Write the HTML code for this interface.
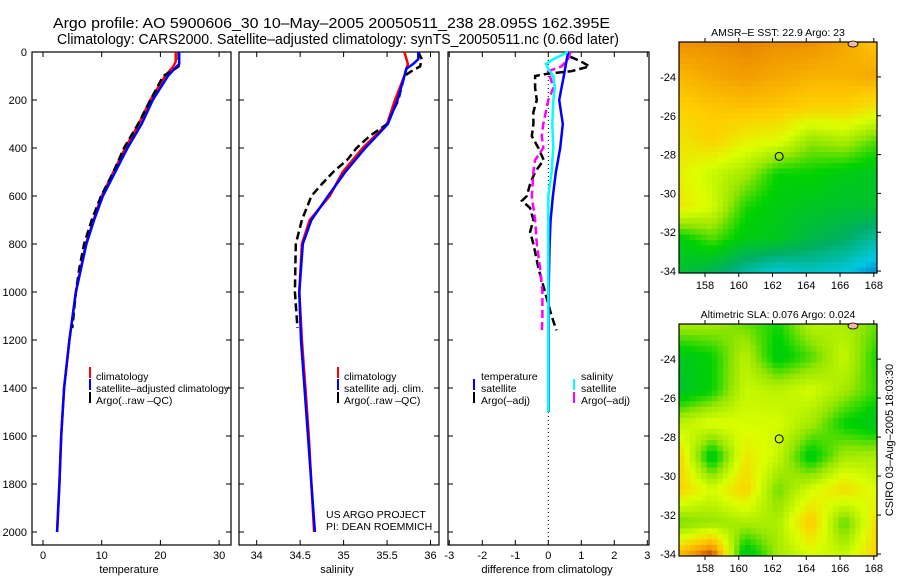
<!DOCTYPE html>
<html><head><meta charset="utf-8">
<style>
html,body{margin:0;padding:0;background:#fff;}
svg{display:block;font-family:"Liberation Sans",sans-serif;}
</style></head>
<body>
<svg id="fig" width="900" height="580" viewBox="0 0 900 580">
<text x="53" y="28" font-size="14.5" textLength="557" lengthAdjust="spacingAndGlyphs">Argo profile: AO 5900606_30 10‒May‒2005 20050511_238 28.095S 162.395E</text>
<text x="57" y="44" font-size="14.5" textLength="562" lengthAdjust="spacingAndGlyphs">Climatology: CARS2000. Satellite‒adjusted climatology: synTS_20050511.nc (0.66d later)</text>
<g id="layer"></g>
</svg>
<script>
const depthClim = [0,40,60,100,200,300,400,500,600,700,800,1000,1200,1400,1600,1800,2000];
const tempClim  = [22.6,22.6,22.2,20.8,18.3,16.3,14.0,12.0,10.0,8.6,7.3,5.6,4.5,3.6,3.1,2.8,2.4];
const depthSat  = [0,50,70,100,200,300,400,500,600,700,800,1000,1200,1400,1600,1800,2000];
const tempSat   = [23.2,23.2,22.4,21.3,18.7,16.8,14.4,12.3,10.2,8.7,7.4,5.6,4.5,3.6,3.1,2.8,2.4];
const depthArgo = [0,60,80,100,200,300,400,500,600,700,800,900,1000,1150];
const tempArgo  = [23.1,23.1,21.9,20.5,18.3,16.2,13.8,12.0,9.9,8.3,7.0,6.2,5.6,5.0];

const salDepthClim = [0,50,100,200,300,400,500,600,700,800,1000,1200,1400,1600,1800,2000];
const salClim   = [35.70,35.74,35.70,35.59,35.50,35.22,34.99,34.84,34.61,34.52,34.49,34.52,34.56,34.60,34.63,34.66];
const salDepthSat = [0,30,50,70,100,200,300,400,500,600,700,800,1000,1200,1400,1600,1800,2000];
const salSat    = [35.86,35.86,35.80,35.72,35.70,35.62,35.51,35.25,35.02,34.82,34.63,34.53,34.49,34.51,34.55,34.59,34.63,34.67];
const salDepthArgo = [0,30,60,80,100,200,300,350,400,450,500,550,600,700,800,1000,1150];
const salArgo   = [35.86,35.90,35.88,35.78,35.70,35.63,35.50,35.30,35.15,35.04,34.88,34.75,34.63,34.52,34.45,34.44,34.47];

const diffDepthT = [0,100,200,300,400,500,600,700,800,1000,1200,1500];
const diffTSat   = [0.60,0.47,0.33,0.44,0.36,0.23,0.14,0.07,0.04,0.01,0.01,0.01];
const diffDepthS = [0,30,50,70,100,150,200,300,400,500,600,800,1000,1200,1500];
const diffSSat   = [0.59,0.15,-0.07,0.0,0.15,0.20,0.15,0.12,0.15,0.10,0.0,0.0,0.0,0.0,0.0];
const diffDepthTA = [20,40,60,80,90,100,150,200,250,300,350,400,450,500,550,600,620,650,700,750,800,900,1000,1100,1160];
const diffTArgo   = [0.67,1.0,1.25,0.7,0.0,-0.4,-0.4,-0.35,-0.45,-0.45,-0.5,-0.3,-0.14,-0.4,-0.55,-0.65,-0.8,-0.55,-0.45,-0.55,-0.45,-0.3,-0.1,0.1,0.25];
const diffDepthSA = [0,30,60,80,100,150,200,300,350,400,450,500,600,700,800,900,1000,1100,1170];
const diffSArgo   = [0.67,0.6,0.4,0.0,0.05,0.15,0.0,-0.15,-0.2,-0.15,-0.4,-0.45,-0.5,-0.4,-0.35,-0.25,-0.18,-0.18,-0.2];

const depthTicks = [0,200,400,600,800,1000,1200,1400,1600,1800,2000];
const tempTicks = [0,10,20,30];
const salTicks = [34,34.5,35,35.5,36];
const salTickLabels = ["34","34.5","35","35.5","36"];
const diffTicks = [-3,-2,-1,0,1,2,3];
const lonTicks = [158,160,162,164,166,168];
const latTicks = [-24,-26,-28,-30,-32,-34];

const sstGrid = [
 [0.86,0.86,0.87,0.86,0.86,0.82,0.76],
 [0.79,0.82,0.84,0.82,0.80,0.80,0.82],
 [0.74,0.76,0.77,0.76,0.74,0.74,0.70],
 [0.70,0.74,0.68,0.66,0.55,0.58,0.50],
 [0.68,0.62,0.57,0.45,0.45,0.42,0.40],
 [0.70,0.64,0.47,0.42,0.40,0.38,0.38],
 [0.42,0.50,0.42,0.40,0.34,0.30,0.22],
 [0.38,0.32,0.22,0.15,0.18,0.15,0.08]
];
const slaGrid = [
 [0.58,0.57,0.52,0.46,0.60,0.58,0.52],
 [0.40,0.45,0.60,0.42,0.50,0.62,0.46],
 [0.38,0.45,0.62,0.60,0.64,0.57,0.48],
 [0.60,0.66,0.64,0.64,0.57,0.45,0.40],
 [0.74,0.40,0.70,0.62,0.42,0.57,0.58],
 [0.74,0.64,0.74,0.52,0.64,0.72,0.64],
 [0.52,0.55,0.58,0.58,0.76,0.50,0.72],
 [0.80,0.95,0.38,0.57,0.64,0.62,0.74]
];
const argoLon = 162.395, argoLat = -28.095;

const NS="http://www.w3.org/2000/svg";
const layer=document.getElementById('layer');
function el(tag,attrs,parent){const e=document.createElementNS(NS,tag);for(const k in attrs)e.setAttribute(k,attrs[k]);(parent||layer).appendChild(e);return e;}

const yTop=52, yPerD=0.24, yBot=545;
const yD = d => yTop + d*yPerD;
const xT = v => 43 + v*5.87;
const xS = v => 256.7 + (v-34)*86.9;
const xDf = v => 548.3 + v*33;

function frame(x0,x1,name){
  const r=el('rect',{x:x0,y:yTop,width:x1-x0,height:yBot-yTop,fill:'none',stroke:'#000','stroke-width':1.2});
  
  
  depthTicks.forEach(d=>{
    el('line',{x1:x0,x2:x0+5,y1:yD(d),y2:yD(d),stroke:'#000'});
    el('line',{x1:x1-5,x2:x1,y1:yD(d),y2:yD(d),stroke:'#000'});
  });
}
function xticks(ticks,labels,sc,name){
  ticks.forEach((t,i)=>{
    const x=sc(t);
    el('line',{x1:x,x2:x,y1:yTop,y2:yTop+5,stroke:'#000'});
    el('line',{x1:x,x2:x,y1:yBot-5,y2:yBot,stroke:'#000'});
    const tx=el('text',{x:x,y:yBot+14,'font-size':11,'text-anchor':'middle'});
    tx.textContent=labels[i];
    
    
  });
}
function line(xs,ds,sx,color,w,dash,name){
  const pts=xs.map((v,i)=>sx(v).toFixed(1)+','+yD(ds[i]).toFixed(1)).join(' ');
  const p=el('polyline',{points:pts,fill:'none',stroke:color,'stroke-width':w});
  if(dash)p.setAttribute('stroke-dasharray',dash);
  
  
}
function txt(x,y,s,size,name,anchor){
  const t=el('text',{x:x,y:y,'font-size':size,'text-anchor':anchor||'start'});
  t.textContent=s;
  
  
  return t;
}
function legBar(x,y,color,name){
  const r=el('rect',{x:x,y:y-9,width:2,height:11,fill:color});
  
  
}

frame(32,231,'temperature-panel');
depthTicks.forEach(d=>{txt(27,yD(d)+4,String(d),11,'y-tick-label','end');});
xticks(tempTicks,tempTicks.map(String),xT,'temperature-tick-label');
line(tempClim,depthClim,xT,'#f00',2.5,null,'temp-climatology-line');
line(tempArgo,depthArgo,xT,'#000',2.5,'8,4','temp-argo-line');
line(tempSat,depthSat,xT,'#00f',2.5,null,'temp-satellite-line');
txt(129,573,'temperature',11,'x-axis-title-temperature','middle');
legBar(89,376,'#f00','legend-swatch-climatology');txt(96,380,'climatology',10.5,'legend-climatology');
legBar(89,388,'#00f','legend-swatch-satellite');
const lt=txt(96,392,'satellite‒adjusted climatology',10.5,'legend-satellite');
lt.setAttribute('textLength','133');lt.setAttribute('lengthAdjust','spacingAndGlyphs');
legBar(89,401,'#000','legend-swatch-argo');txt(96,404,'Argo(..raw ‒QC)',10.5,'legend-argo');

frame(239,439,'salinity-panel');
xticks(salTicks,salTickLabels,xS,'salinity-tick-label');
line(salClim,salDepthClim,xS,'#f00',2.5,null,'sal-climatology-line');
line(salArgo,salDepthArgo,xS,'#000',2.5,'8,4','sal-argo-line');
line(salSat,salDepthSat,xS,'#00f',2.5,null,'sal-satellite-line');
txt(337,573,'salinity',11,'x-axis-title-salinity','middle');
legBar(337,376,'#f00','legend-swatch-sal-clim');txt(344,380,'climatology',10.5,'legend-sal-climatology');
legBar(337,388,'#00f','legend-swatch-sal-sat');txt(344,392,'satellite adj. clim.',10.5,'legend-sal-satellite');
legBar(337,401,'#000','legend-swatch-sal-argo');txt(344,404,'Argo(..raw ‒QC)',10.5,'legend-sal-argo');
txt(326,518,'US ARGO PROJECT',10.5,'project-label');
txt(326,530,'PI: DEAN ROEMMICH',10.5,'pi-label');

frame(448,649,'difference-panel');
xticks(diffTicks,diffTicks.map(String),xDf,'difference-tick-label');
el('line',{x1:xDf(0),x2:xDf(0),y1:yTop,y2:yBot,stroke:'#000','stroke-dasharray':'1,3'});
line(diffTArgo,diffDepthTA,xDf,'#000',2.5,'8,4','diff-temp-argo-line');
line(diffSArgo,diffDepthSA,xDf,'#f0f',2.5,'8,4','diff-sal-argo-line');
line(diffTSat,diffDepthT,xDf,'#00f',2.5,null,'diff-temp-satellite-line');
line(diffSSat,diffDepthS,xDf,'#0ff',2.5,null,'diff-sal-satellite-line');
txt(547,573,'difference from climatology',11,'x-axis-title-difference','middle');
txt(481,380,'temperature',10.5,'legend-temperature-header');
legBar(473,388,'#00f','legend-swatch-dt-sat');txt(481,392,'satellite',10.5,'legend-dt-satellite');
legBar(473,401,'#000','legend-swatch-dt-argo');txt(481,404,'Argo(‒adj)',10.5,'legend-dt-argo');
txt(581,380,'salinity',10.5,'legend-salinity-header');
legBar(573,388,'#0ff','legend-swatch-ds-sat');txt(581,392,'satellite',10.5,'legend-ds-satellite');
legBar(573,401,'#f0f','legend-swatch-ds-argo');txt(581,404,'Argo(‒adj)',10.5,'legend-ds-argo');

const cmapStops=[[0,[0,60,200]],[0.15,[0,200,225]],[0.3,[0,175,100]],[0.45,[0,210,0]],[0.55,[150,230,0]],[0.65,[220,255,0]],[0.75,[255,205,0]],[0.85,[240,150,0]],[1,[140,0,0]]];
function cmap(v){
  v=Math.max(0,Math.min(1,v));
  for(let i=1;i<cmapStops.length;i++){
    if(v<=cmapStops[i][0]){const a=cmapStops[i-1],b=cmapStops[i];const f=(v-a[0])/(b[0]-a[0]);
      return 'rgb('+a[1].map((c,k)=>Math.round(c+(b[1][k]-c)*f)).join(',')+')';}
  }
  return 'rgb(140,0,0)';
}
function sample(g,u,v){
  const R=g.length-1,C=g[0].length-1;
  const y=v*R,x=u*C;const r0=Math.min(R-1,Math.floor(y)),c0=Math.min(C-1,Math.floor(x));
  const fy=y-r0,fx=x-c0;
  return g[r0][c0]*(1-fx)*(1-fy)+g[r0][c0+1]*fx*(1-fy)+g[r0+1][c0]*(1-fx)*fy+g[r0+1][c0+1]*fx*fy;
}
function map(grid,x0,y0,x1,y1,title,name){
  const lonMin=156.46,lonMax=168.19,latTop=-22.2,latBot=-34.1;
  const lx=lon=>x0+(lon-lonMin)/(lonMax-lonMin)*(x1-x0);
  const ly=lat=>y0+(latTop-lat)/(latTop-latBot)*(y1-y0);
  const g=el('g',{});
  
  
  const nc=36,nr=42,cw=(x1-x0)/nc,ch=(y1-y0)/nr;
  for(let r=0;r<nr;r++)for(let c=0;c<nc;c++){
    el('rect',{x:(x0+c*cw).toFixed(2),y:(y0+r*ch).toFixed(2),width:(cw+0.4).toFixed(2),height:(ch+0.4).toFixed(2),fill:cmap(sample(grid,(c+0.5)/nc,(r+0.5)/nr))},g);
  }
  el('rect',{x:x0,y:y0,width:x1-x0,height:y1-y0,fill:'none',stroke:'#000','stroke-width':1.2},g);
  lonTicks.forEach(t=>{const x=lx(t);el('line',{x1:x,x2:x,y1:y0-4,y2:y0,stroke:'#000'},g);el('line',{x1:x,x2:x,y1:y1,y2:y1+4,stroke:'#000'},g);
    txt(x,y1+16,String(t),11,'longitude-tick-label','middle');});
  latTicks.forEach(t=>{const y=ly(t);el('line',{x1:x1,x2:x1+4,y1:y,y2:y,stroke:'#000'},g);
    txt(x0-3,y+4,String(t),11,'latitude-tick-label','end');});
  el('ellipse',{cx:lx(argoLon),cy:ly(argoLat),rx:4,ry:4,fill:'none',stroke:'#000','stroke-width':1},g);
  el('ellipse',{cx:x1-24,cy:y0+2,rx:5,ry:3,fill:'#f2b8a0',stroke:'#000','stroke-width':0.8},g);
  txt((x0+x1)/2,y0-6,title,10.5,name+'-title','middle');
}
map(sstGrid,679,42,877,273,'AMSR‒E SST: 22.9 Argo: 23','sst-map');
map(slaGrid,679,324,877,556,'Altimetric SLA: 0.076 Argo: 0.024','sla-map');

const stamp=txt(0,0,'CSIRO 03‒Aug‒2005 18:03:30',11,'timestamp-label','middle');
stamp.setAttribute('transform','translate(893,440) rotate(-90)');
</script>
</body></html>
